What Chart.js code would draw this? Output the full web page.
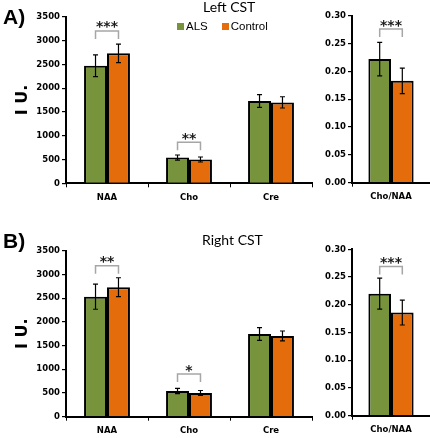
<!DOCTYPE html>
<html>
<head>
<meta charset="utf-8">
<script src="https://cdn.jsdelivr.net/npm/chart.js@4.4.0/dist/chart.umd.min.js"></script>
<style>
  body { margin: 0; background: #fff; }
  #wrap { position: relative; width: 430px; height: 438px; overflow: hidden; }
  canvas { position: absolute; }
  .lbl { position: absolute; white-space: nowrap; color: #000; }
  .panel { font-family: 'Liberation Sans', Arial, sans-serif; font-weight: bold; font-size: 21px; line-height: 21px; }
  .ttl { font-family: Lato, 'Open Sans', sans-serif; font-size: 14px; line-height: 14px; }
  #legend { font-family: 'Liberation Sans', Arial, sans-serif; font-size: 11.5px; line-height: 14px; }
  #legend .sw { display: inline-block; width: 7px; height: 7px; margin-right: 2px; }
  #legend .item { margin-right: 14px; }
</style>
</head>
<body>
<div id="wrap">
  <canvas id="leftMain" width="320" height="210" style="left:0;top:0"></canvas>
  <canvas id="leftRatio" width="110" height="210" style="left:320px;top:0"></canvas>
  <canvas id="rightMain" width="320" height="204" style="left:0;top:234px"></canvas>
  <canvas id="rightRatio" width="110" height="204" style="left:320px;top:234px"></canvas>
  <div class="lbl panel" style="left:3px;top:6px">A)</div>
  <div class="lbl panel" style="left:3px;top:230px">B)</div>
  <div class="lbl ttl" style="left:203px;top:0">Left CST</div>
  <div class="lbl ttl" style="left:202px;top:233px">Right CST</div>
  <div class="lbl" id="legend" style="left:177px;top:19px"></div>
</div>
<script>
// categories and series
const categories = ['NAA', 'Cho', 'Cre'];
const ratioCategory = ['Cho/NAA'];
const seriesNames = ['ALS', 'Control'];
const seriesColors = ['#77933C', '#E46C0A'];

// Left CST (A)
const leftALS = [2470, 540, 1730];
const leftALSErr = [228, 55, 135];
const leftControl = [2730, 500, 1700];
const leftControlErr = [195, 52, 118];
const leftStars = ['***', '**', ''];
const leftBracket = [3200, 860, null];

const leftRatioALS = [0.222];
const leftRatioALSErr = [0.030];
const leftRatioControl = [0.183];
const leftRatioControlErr = [0.023];
const leftRatioStars = ['***'];
const leftRatioBracket = [0.276];

// Right CST (B)
const rightALS = [2530, 542, 1745];
const rightALSErr = [265, 55, 135];
const rightControl = [2730, 500, 1702];
const rightControlErr = [200, 52, 105];
const rightStars = ['**', '*', ''];
const rightBracket = [3185, 900, null];

const rightRatioALS = [0.220];
const rightRatioALSErr = [0.028];
const rightRatioControl = [0.186];
const rightRatioControlErr = [0.0225];
const rightRatioStars = ['***'];
const rightRatioBracket = [0.269];

// axis ranges
const mainMax = 3500, mainStep = 500;
const ratioMax = 0.30, ratioStep = 0.05;

const tickFont = { family: 'DejaVu Sans', weight: 'bold', size: 8.5 };

// error bars + significance brackets drawn through the chart's own scales
function overlay(stars, brackets) {
    return {
        id: 'overlay',
        afterDatasetsDraw(chart) {
            const ctx = chart.ctx;
            const y = chart.scales.y;
            ctx.save();
            ctx.strokeStyle = '#000';
            ctx.lineWidth = 1.2;
            chart.data.datasets.forEach((ds, i) => {
                chart.getDatasetMeta(i).data.forEach((bar, j) => {
                    const top = y.getPixelForValue(ds.data[j] + ds.errors[j]);
                    const bot = y.getPixelForValue(ds.data[j] - ds.errors[j]);
                    ctx.beginPath();
                    ctx.moveTo(bar.x, top); ctx.lineTo(bar.x, bot);
                    ctx.moveTo(bar.x - 2.5, top); ctx.lineTo(bar.x + 2.5, top);
                    ctx.moveTo(bar.x - 2.5, bot); ctx.lineTo(bar.x + 2.5, bot);
                    ctx.stroke();
                });
            });
            const a = chart.getDatasetMeta(0).data;
            const b = chart.getDatasetMeta(1).data;
            stars.forEach((s, j) => {
                if (!s) return;
                const yt = y.getPixelForValue(brackets[j]);
                const x0 = a[j].x, x1 = b[j].x;
                ctx.strokeStyle = '#a6a6a6';
                ctx.lineWidth = 1.5;
                ctx.beginPath();
                ctx.moveTo(x0, yt + 8); ctx.lineTo(x0, yt); ctx.lineTo(x1, yt); ctx.lineTo(x1, yt + 8);
                ctx.stroke();
                ctx.fillStyle = '#1a1a1a';
                ctx.font = 'bold 14px "DejaVu Sans"';
                ctx.textAlign = 'center';
                ctx.textBaseline = 'alphabetic';
                ctx.fillText(s, (x0 + x1) / 2, yt + 0.5);
            });
            ctx.restore();
        }
    };
}

function makeChart(id, labels, als, alsErr, ctl, ctlErr, stars, brackets, cfg) {
    return new Chart(document.getElementById(id), {
        type: 'bar',
        data: {
            labels: labels,
            datasets: [
                { label: seriesNames[0], data: als, errors: alsErr, backgroundColor: seriesColors[0] },
                { label: seriesNames[1], data: ctl, errors: ctlErr, backgroundColor: seriesColors[1] }
            ]
        },
        options: {
            responsive: false,
            animation: false,
            layout: { padding: { left: 0, right: cfg.padRight, top: cfg.padTop, bottom: 0 } },
            datasets: {
                bar: {
                    borderColor: '#000',
                    borderWidth: 2,
                    categoryPercentage: cfg.catPct,
                    barPercentage: 1.0
                }
            },
            plugins: { legend: { display: false }, tooltip: { enabled: false } },
            scales: {
                x: {
                    afterFit: (s) => { s.height = cfg.xHeight; },
                    grid: { drawOnChartArea: false, tickLength: 4, color: '#000', lineWidth: 1 },
                    border: { color: '#000', width: 2 },
                    ticks: { color: '#000', font: tickFont, padding: 5 }
                },
                y: {
                    min: 0,
                    max: cfg.max,
                    afterFit: (s) => { s.width = cfg.yWidth; },
                    grid: { drawOnChartArea: false, tickLength: 4, color: '#000', lineWidth: 1.2 },
                    border: { color: '#000', width: 2 },
                    ticks: {
                        stepSize: cfg.step,
                        color: '#000',
                        font: tickFont,
                        padding: 2,
                        callback: cfg.fmt
                    },
                    title: {
                        display: !!cfg.yTitle,
                        text: cfg.yTitle,
                        color: '#000',
                        font: { family: 'DejaVu Sans', weight: 'bold', size: 16 },
                        padding: { top: 13.5, bottom: 0 }
                    }
                }
            }
        },
        plugins: [overlay(stars, brackets)]
    });
}

const mainCfg = (xh) => ({ max: mainMax, step: mainStep, yWidth: 66, padRight: 8, padTop: 16.7,
    xHeight: xh, catPct: 0.56, yTitle: 'I U.', fmt: (v) => v });
const ratioCfg = (top, xh) => ({ max: ratioMax, step: ratioStep, yWidth: 32, padRight: 0, padTop: top,
    xHeight: xh, catPct: 0.58, yTitle: '', fmt: (v) => Number(v).toFixed(2) });

makeChart('leftMain', categories, leftALS, leftALSErr, leftControl, leftControlErr,
    leftStars, leftBracket, mainCfg(26.7));
makeChart('leftRatio', ratioCategory, leftRatioALS, leftRatioALSErr, leftRatioControl, leftRatioControlErr,
    leftRatioStars, leftRatioBracket, ratioCfg(15.7, 27.3));
makeChart('rightMain', categories, rightALS, rightALSErr, rightControl, rightControlErr,
    rightStars, rightBracket, mainCfg(21.3));
makeChart('rightRatio', ratioCategory, rightRatioALS, rightRatioALSErr, rightRatioControl, rightRatioControlErr,
    rightRatioStars, rightRatioBracket, ratioCfg(15.3, 22.3));

// legend built from the series names and colours
document.getElementById('legend').innerHTML = seriesNames.map((n, i) =>
    '<span class="item"><span class="sw" style="background:' + seriesColors[i] + '"></span>' + n + '</span>'
).join('');
</script>
</body>
</html>
